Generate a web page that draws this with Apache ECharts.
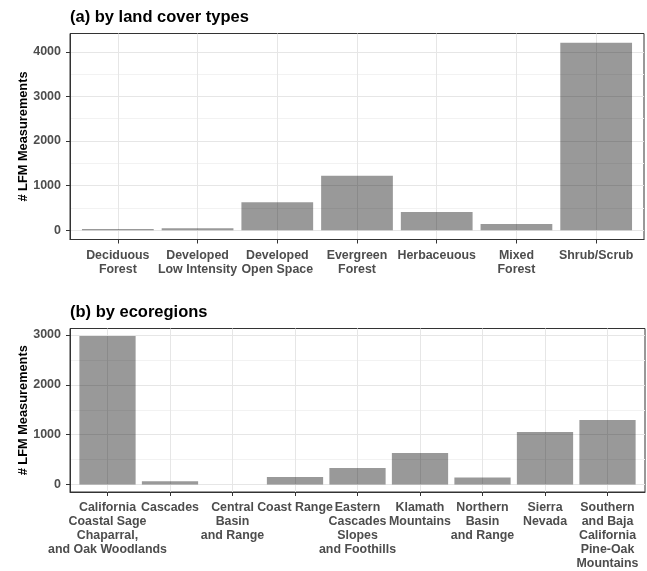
<!DOCTYPE html>
<html>
<head>
<meta charset="utf-8">
<style>
  html, body { margin: 0; padding: 0; background: #ffffff; }
  #chart { width: 647px; height: 571px; }
</style>
<script src="https://cdn.jsdelivr.net/npm/echarts@6/dist/echarts.min.js"></script>
</head>
<body>
<div id="chart"></div>
<script>
// (a) measurement counts per land cover type
const landCoverTypes = [
  'Deciduous\nForest', 'Developed\nLow Intensity', 'Developed\nOpen Space',
  'Evergreen\nForest', 'Herbaceuous', 'Mixed\nForest', 'Shrub/Scrub'
];
const landCoverCounts = [25, 45, 625, 1220, 405, 140, 4200];
const landCoverTicks = [0, 1000, 2000, 3000, 4000];

// (b) measurement counts per ecoregion
const ecoregions = [
  'California\nCoastal Sage\nChaparral,\nand Oak Woodlands', 'Cascades',
  'Central\nBasin\nand Range', 'Coast Range', 'Eastern\nCascades\nSlopes\nand Foothills',
  'Klamath\nMountains', 'Northern\nBasin\nand Range', 'Sierra\nNevada',
  'Southern\nand Baja\nCalifornia\nPine-Oak\nMountains'
];
const ecoregionCounts = [2980, 65, 2, 150, 334, 634, 140, 1054, 1294];
const ecoregionTicks = [0, 1000, 2000, 3000];

const yAxisTitle = '# LFM Measurements';
const panelTitles = ['(a) by land cover types', '(b) by ecoregions'];

const FONT = "'Liberation Sans', Arial, sans-serif";
const BAR_FILL = 'rgba(0,0,0,0.4)';
const GRID_MAJOR = '#e6e6e6';
const GRID_MINOR = '#f2f2f2';
const FRAME = '#333333';

// midpoints between major breaks, within the padded range
function minorBreaks(ticks, lo, hi) {
  const step = ticks[1] - ticks[0];
  const out = [];
  for (let v = ticks[0] - step / 2; v <= hi; v += step) {
    if (v >= lo) out.push(v);
  }
  return out;
}

function catLabelStyle(cats, values) {
  return {
    customValues: values, margin: 9, showMinLabel: true, showMaxLabel: true, hideOverlap: false,
    formatter: v => cats[Math.round(v)] || '',
    color: '#4d4d4d', fontWeight: 'bold', fontSize: 12.4, fontFamily: FONT,
    lineHeight: 14, align: 'center', verticalAlign: 'top'
  };
}

function panel(idx, cats, counts, ticks) {
  const maxV = Math.max(...counts);
  const pad = 0.05 * maxV;
  const yMin = -pad, yMax = maxV + pad;
  const idxs = cats.map((_, i) => i);
  const evens = idxs.filter(i => i % 2 === 0);
  const odds = idxs.filter(i => i % 2 === 1);
  const xMin = -0.6, xMax = cats.length - 1 + 0.6;
  // main category axis: line, ticks, gridlines and every other label
  const xMain = {
    type: 'value', gridIndex: idx, position: 'bottom', offset: 0,
    min: xMin, max: xMax,
    axisLine: { show: true, onZero: false, lineStyle: { color: FRAME, width: 1 } },
    axisTick: { show: true, length: 4, customValues: idxs, lineStyle: { color: FRAME } },
    axisLabel: catLabelStyle(cats, evens),
    splitLine: { show: true, lineStyle: { color: GRID_MAJOR, width: 1 } }
  };
  // companion axis carrying the remaining labels so neighbours are never dropped
  const xAlt = {
    type: 'value', gridIndex: idx, position: 'bottom', offset: 0,
    min: xMin, max: xMax,
    axisLine: { show: false, onZero: false },
    axisTick: { show: false, customValues: odds },
    axisLabel: catLabelStyle(cats, odds),
    splitLine: { show: false }
  };
  const yMajor = {
    type: 'value', gridIndex: idx, min: yMin, max: yMax, position: 'left',
    name: yAxisTitle, nameLocation: 'middle', nameGap: 40, nameRotate: 90, nameMoveOverlap: false,
    nameTextStyle: { color: '#000', fontWeight: 'bold', fontSize: 12.8, fontFamily: FONT },
    axisLine: { show: true, onZero: false, lineStyle: { color: FRAME, width: 1 } },
    axisTick: { show: true, length: 4, customValues: ticks, lineStyle: { color: FRAME } },
    axisLabel: {
      customValues: ticks, margin: 9, showMinLabel: true, showMaxLabel: true,
      formatter: v => String(v),
      color: '#4d4d4d', fontWeight: 'bold', fontSize: 12.5, fontFamily: FONT
    },
    splitLine: { show: true, lineStyle: { color: GRID_MAJOR, width: 1 } }
  };
  const yMinor = {
    type: 'value', gridIndex: idx, min: yMin, max: yMax, position: 'left',
    axisLine: { show: false, onZero: false },
    axisTick: { show: false, customValues: minorBreaks(ticks, yMin, yMax) },
    axisLabel: { show: false },
    splitLine: { show: true, lineStyle: { color: GRID_MINOR, width: 1 } }
  };
  return { xMain, xAlt, yMajor, yMinor };
}

const chart = echarts.init(document.getElementById('chart'), null, { renderer: 'canvas' });

const pA = panel(0, landCoverTypes, landCoverCounts, landCoverTicks);
const pB = panel(1, ecoregions, ecoregionCounts, ecoregionTicks);

const option = {
  animation: false,
  backgroundColor: '#ffffff',
  title: [
    { text: panelTitles[0], left: 70, top: 9, padding: 0,
      textStyle: { color: '#000', fontWeight: 'bold', fontSize: 16.5, fontFamily: FONT } },
    { text: panelTitles[1], left: 70, top: 304, padding: 0,
      textStyle: { color: '#000', fontWeight: 'bold', fontSize: 16.5, fontFamily: FONT } }
  ],
  grid: [
    { left: 70, right: 3, top: 33.5, height: 206, show: true, borderColor: FRAME, borderWidth: 1, backgroundColor: '#fff' },
    { left: 70, right: 2, top: 328.5, height: 164, show: true, borderColor: FRAME, borderWidth: 1, backgroundColor: '#fff' }
  ],
  xAxis: [pA.xMain, pA.xAlt, pB.xMain, pB.xAlt],
  yAxis: [pA.yMinor, pA.yMajor, pB.yMinor, pB.yMajor],
  series: [
    {
      type: 'bar', xAxisIndex: 0, yAxisIndex: 1, barWidth: '90%', clip: false,
      itemStyle: { color: BAR_FILL },
      data: landCoverCounts.map((v, i) => [i, v])
    },
    {
      type: 'bar', xAxisIndex: 2, yAxisIndex: 3, barWidth: '90%', clip: false,
      itemStyle: { color: BAR_FILL },
      data: ecoregionCounts.map((v, i) => [i, v])
    }
  ]
};
chart.setOption(option);
</script>
</body>
</html>
